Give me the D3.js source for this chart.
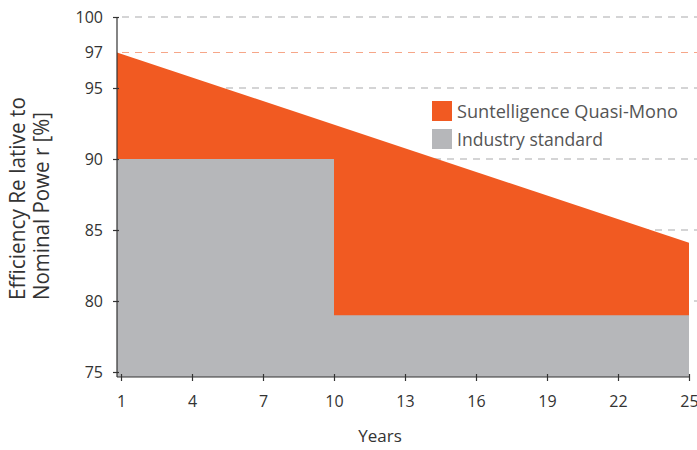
<!DOCTYPE html>
<html>
<head>
<meta charset="utf-8">
<style>
	body { margin: 0; background: white; }
	text { font-family: "Open Sans", sans-serif; }
	.grid { stroke: #aaaaab; stroke-width: 1.2; stroke-dasharray: 7 6; }
	.guarantee { stroke: #f6a688; stroke-width: 1.2; stroke-dasharray: 7 6; }
	.axis path, .axis line { stroke: #333; stroke-width: 1.2; }
	.axis text { fill: #333; font-size: 16px; }
</style>
</head>
<body>
<svg width="697" height="450"></svg>
<script src="https://cdn.jsdelivr.net/npm/d3@7"></script>
<script>
const width = 697;
const height = 450;

// data
const yearTicks = [1, 4, 7, 10, 13, 16, 19, 22, 25];
const yTicks = [75, 80, 85, 90, 95, 100];
const quasiYears = [1, 25];
const quasiValues = [97.5, 84.1];
const standardYears = [1, 10, 10, 25];
const standardValues = [90, 90, 79, 79];
const guaranteeValue = 97.5;
const guaranteeLabel = "97";
const legendLabels = ["Suntelligence Quasi-Mono", "Industry standard"];
const legendWidths = [221, 146];
const colors = ["#f15a22", "#b6b7ba"];

const svg = d3.select("svg");

const x = d3.scaleLinear().domain([1, 25]).range([121, 689]);
const y = d3.scaleLinear().domain([75, 100]).range([372, 17]);

const axisX = x(1) - 4;      // y axis sits a little left of year 1
const axisY = y(75) + 5;     // x axis sits a little under 75

const px = (yr, i) => i === 0 ? axisX : x(yr);

// gridlines
svg.selectAll(".grid")
	.data(yTicks.filter(d => d > 75))
	.enter()
	.append("line")
		.attr("class", "grid")
		.attr("x1", axisX + 5)
		.attr("x2", width)
		.attr("y1", d => y(d))
		.attr("y2", d => y(d));

svg.append("line")
	.attr("class", "guarantee")
	.attr("x1", axisX + 5)
	.attr("x2", width)
	.attr("y1", y(guaranteeValue))
	.attr("y2", y(guaranteeValue));

const area = d3.area()
	.x(d => d[0])
	.y0(axisY)
	.y1(d => d[1]);

const quasiPts = quasiYears.map((yr, i) => [px(yr, i), y(quasiValues[i])]);
const standardPts = standardYears.map((yr, i) => [px(yr, i), y(standardValues[i])]);

svg.append("path")
	.attr("d", area(quasiPts))
	.attr("fill", colors[0]);

svg.append("path")
	.attr("d", area(standardPts))
	.attr("fill", colors[1]);

// y axis
const gy = svg.append("g")
	.attr("class", "axis")
	.attr("transform", `translate(${axisX},0)`)
	.call(d3.axisLeft(y).tickValues(yTicks).tickSize(4).tickSizeOuter(0).tickPadding(10));
gy.select(".domain").attr("d", `M0,${y(100)}V${axisY}`);
gy.selectAll(".tick line").attr("x1", 2);

gy.append("text")
	.attr("x", -14)
	.attr("y", y(guaranteeValue))
	.attr("dy", "0.32em")
	.attr("text-anchor", "end")
	.attr("fill", "#9a9a9a")
	.text(guaranteeLabel);

// x axis
const gx = svg.append("g")
	.attr("class", "axis")
	.attr("transform", `translate(0,${axisY})`)
	.call(d3.axisBottom(x).tickValues(yearTicks).tickSize(4).tickSizeOuter(0).tickPadding(15));
gx.select(".domain").attr("d", `M${axisX},0H${x(25)}`);
gx.selectAll(".tick line").attr("y1", -3);

// titles
svg.append("text")
	.attr("x", 380)
	.attr("y", 442)
	.attr("text-anchor", "middle")
	.attr("fill", "#333")
	.style("font-size", "17px")
	.text("Years");

const yTitle = svg.append("g")
	.attr("transform", "translate(0,300) rotate(-90)");
yTitle.append("text")
	.attr("x", 0).attr("y", 25)
	.attr("fill", "#333")
	.attr("textLength", 203)
	.attr("lengthAdjust", "spacingAndGlyphs")
	.style("font-size", "21px")
	.text("Efficiency Re lative to");
yTitle.append("text")
	.attr("x", 0).attr("y", 49)
	.attr("fill", "#333")
	.attr("textLength", 188)
	.attr("lengthAdjust", "spacingAndGlyphs")
	.style("font-size", "21px")
	.text("Nominal Powe r [%]");

// legend
const legend = svg.selectAll(".legend")
	.data(legendLabels)
	.enter()
	.append("g")
		.attr("class", "legend")
		.attr("transform", (d, i) => `translate(432,${101 + i * 28})`);
legend.append("rect")
	.attr("width", 20)
	.attr("height", 20)
	.attr("fill", (d, i) => colors[i]);
legend.append("text")
	.attr("x", 25)
	.attr("y", 17)
	.attr("fill", "#555")
	.attr("textLength", (d, i) => legendWidths[i])
	.attr("lengthAdjust", "spacingAndGlyphs")
	.style("font-size", "19px")
	.text(d => d);
</script>
</body>
</html>
